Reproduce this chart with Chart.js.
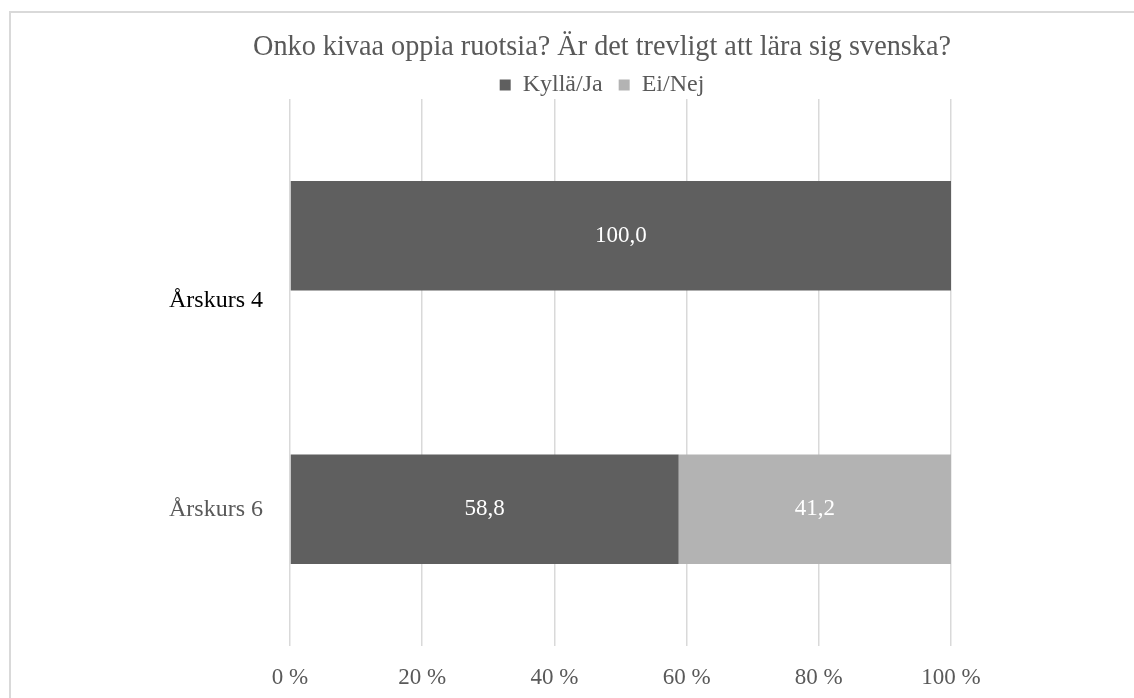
<!DOCTYPE html>
<html lang="fi">
<head>
<meta charset="utf-8">
<title>Onko kivaa oppia ruotsia?</title>
<script src="https://cdn.jsdelivr.net/npm/chart.js@4.4.1/dist/chart.umd.min.js"></script>
<style>
    html, body { margin: 0; padding: 0; background: #fff; overflow: hidden; }
    #frame { position: absolute; left: 9px; top: 11px; width: 1200px; height: 800px; border: 2px solid #d9d9d9; }
    #wrap { position: absolute; left: 0; top: 0; width: 1134px; height: 698px; }
</style>
</head>
<body>
<div id="frame"></div>
<div id="wrap"><canvas id="chart"></canvas></div>
<script>
"use strict";

// --- Data ---
const chartTitle = 'Onko kivaa oppia ruotsia? Är det trevligt att lära sig svenska?';
const categories = ['Årskurs 4', 'Årskurs 6'];
const seriesNames = ['Kyllä/Ja', 'Ei/Nej'];
const yesValues = [100.0, 58.8];
const noValues = [0.0, 41.2];
const xTickValues = [0, 20, 40, 60, 80, 100];

const FONT = '"Liberation Serif", "Times New Roman", serif';
const TEXT_GREY = '#595959';
const GRID_GREY = '#d9d9d9';

/** Draws the white value labels in the middle of each bar segment (skips zeros). */
const barValueLabels = {
    id: 'barValueLabels',
    afterDatasetsDraw(chart) {
        const ctx = chart.ctx;
        ctx.save();
        ctx.font = `23px ${FONT}`;
        ctx.fillStyle = '#ffffff';
        ctx.textAlign = 'center';
        ctx.textBaseline = 'middle';
        chart.data.datasets.forEach((ds, di) => {
            chart.getDatasetMeta(di).data.forEach((bar, i) => {
                const v = ds.data[i];
                if (!v) return;
                const p = bar.getCenterPoint();
                ctx.fillText(v.toFixed(1).replace('.', ','), p.x, p.y);
            });
        });
        ctx.restore();
    }
};

const ctx = document.getElementById('chart').getContext('2d');

new Chart(ctx, {
    type: 'bar',
    data: {
        labels: categories,
        datasets: [
            { label: seriesNames[0], data: yesValues, backgroundColor: '#5f5f5f', borderWidth: 0 },
            { label: seriesNames[1], data: noValues, backgroundColor: '#b3b3b3', borderWidth: 0 }
        ]
    },
    options: {
        indexAxis: 'y',
        responsive: true,
        maintainAspectRatio: false,
        animation: false,
        barPercentage: 0.4,
        categoryPercentage: 1.0,
        // big left padding keeps title + legend centred where the original has them
        layout: { padding: { top: 0, left: 253, right: 183, bottom: 10 } },
        plugins: {
            title: {
                display: true,
                text: chartTitle,
                color: TEXT_GREY,
                font: { family: FONT, size: 30, weight: 'normal', lineHeight: '20px' },
                padding: { top: 37, bottom: 0 }
            },
            legend: {
                display: true,
                position: 'top',
                maxHeight: 42,
                labels: {
                    color: TEXT_GREY,
                    font: { family: FONT, size: 24 },
                    boxWidth: 11,
                    boxHeight: 11,
                    padding: 16
                }
            },
            tooltip: { enabled: false }
        },
        scales: {
            x: {
                stacked: true,
                min: 0,
                max: 100,
                afterBuildTicks: scale => { scale.ticks = xTickValues.map(v => ({ value: v })); },
                afterFit: scale => { scale.height = 42; },
                grid: { color: GRID_GREY, lineWidth: 1.5, drawTicks: false },
                border: { display: false },
                ticks: {
                    color: TEXT_GREY,
                    font: { family: FONT, size: 23 },
                    padding: 18,
                    callback: value => `${value} %`
                }
            },
            y: {
                stacked: true,
                afterFit: scale => { scale.width = 37; },
                grid: { display: false, drawTicks: false },
                border: { display: false },
                ticks: {
                    // mirrored + negative padding: labels are drawn left of the narrow axis box, unclipped
                    mirror: true,
                    crossAlign: 'far',
                    padding: -121,
                    color: c => (c.index === 0 ? '#000000' : TEXT_GREY),
                    font: c => ({ family: FONT, size: 24, lineHeight: c.index === 0 ? '26px' : 1.2 }),
                    // the first label sits lower than its bar in the original
                    callback: (value, index) => (index === 0 ? ['', '', '', '', '', categories[0]] : categories[index])
                }
            }
        }
    },
    plugins: [barValueLabels]
});
</script>
</body>
</html>
